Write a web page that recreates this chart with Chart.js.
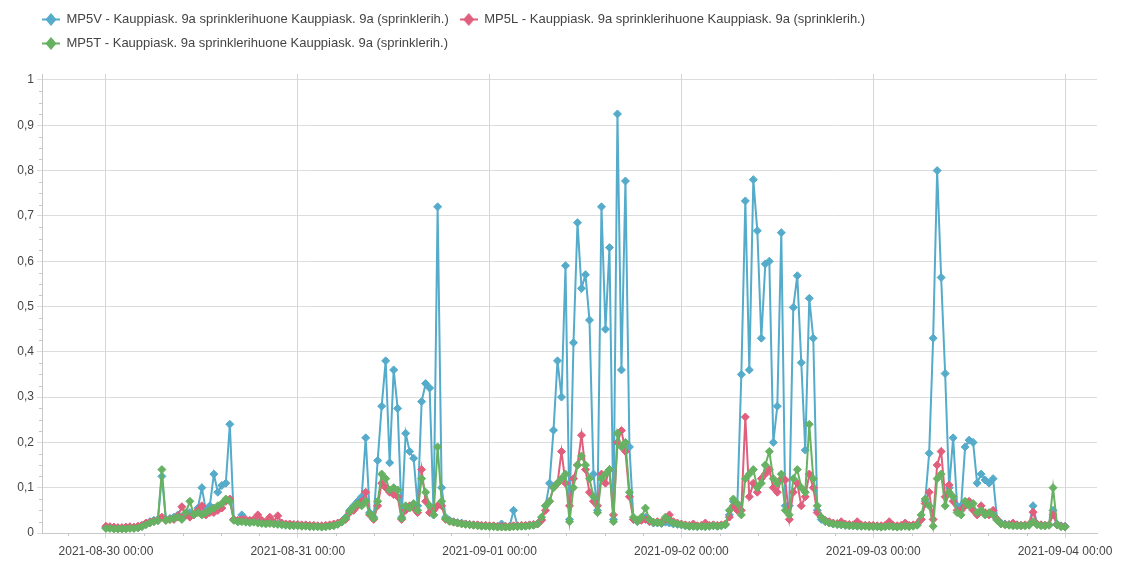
<!DOCTYPE html>
<html>
<head>
<meta charset="utf-8">
<script src="https://cdn.jsdelivr.net/npm/chart.js@4/dist/chart.umd.min.js"></script>
<style>
    html, body { margin: 0; padding: 0; background: #ffffff; }
    #wrap { width: 1134px; height: 563px; position: relative; }
</style>
</head>
<body>
<div id="wrap"><canvas id="chart"></canvas></div>
<script>
// ================= DATA =================

// readings every 30 min, starting 2021-08-30 00:00 (hour 0)
const startHour = 0;
const stepHours = 0.5;

const dayTicks = [0, 24, 48, 72, 96, 120];
const dayLabels = ['2021-08-30 00:00', '2021-08-31 00:00', '2021-09-01 00:00',
                   '2021-09-02 00:00', '2021-09-03 00:00', '2021-09-04 00:00'];
const yTicks = [0, 0.1, 0.2, 0.3, 0.4, 0.5, 0.6, 0.7, 0.8, 0.9, 1];

const seriesNames = [
    'MP5V - Kauppiask. 9a sprinklerihuone Kauppiask. 9a (sprinklerih.)',
    'MP5L - Kauppiask. 9a sprinklerihuone Kauppiask. 9a (sprinklerih.)',
    'MP5T - Kauppiask. 9a sprinklerihuone Kauppiask. 9a (sprinklerih.)'
];

const mp5v = [
    .012,.012,.011,.011,.010,.011,.012,.012,.013,.016,.020,.025,
    .028,.030,.125,.030,.032,.035,.040,.035,.040,.045,.040,.055,
    .100,.050,.060,.130,.090,.105,.110,.240,.030,.025,.040,.025,
    .024,.025,.024,.022,.022,.023,.021,.020,.019,.018,.018,.017,
    .017,.016,.016,.015,.015,.015,.014,.015,.016,.017,.020,.025,
    .035,.050,.060,.070,.080,.210,.045,.035,.160,.280,.380,.155,
    .360,.275,.035,.220,.180,.165,.060,.290,.330,.320,.040,.720,
    .100,.035,.028,.025,.023,.022,.020,.019,.018,.017,.016,.016,
    .015,.015,.014,.020,.014,.014,.050,.015,.015,.016,.017,.018,
    .020,.030,.060,.110,.227,.380,.300,.590,.030,.420,.685,.540,
    .570,.470,.130,.050,.720,.450,.630,.030,.925,.360,.777,.190,
    .030,.025,.030,.035,.025,.022,.022,.021,.024,.022,.020,.019,
    .018,.016,.015,.015,.014,.015,.014,.015,.016,.015,.016,.018,
    .040,.070,.060,.350,.733,.360,.780,.667,.430,.594,.600,.200,
    .280,.663,.060,.060,.498,.568,.376,.183,.518,.430,.050,.030,
    .025,.022,.020,.019,.018,.017,.017,.016,.016,.015,.016,.015,
    .015,.015,.014,.015,.016,.015,.014,.015,.016,.015,.016,.018,
    .030,.070,.176,.430,.800,.564,.352,.100,.210,.060,.060,.190,
    .205,.200,.110,.130,.117,.110,.120,.030,.022,.020,.019,.018,
    .018,.017,.017,.018,.060,.020,.018,.017,.018,.050,.020,.016,
    .015
];

const mp5l = [
    .015,.014,.013,.012,.012,.013,.014,.013,.015,.017,.022,.024,
    .026,.028,.035,.028,.030,.030,.038,.058,.040,.035,.040,.050,
    .060,.040,.045,.045,.050,.055,.070,.075,.030,.028,.030,.030,
    .028,.030,.040,.028,.025,.035,.024,.038,.022,.020,.020,.019,
    .019,.018,.018,.017,.017,.016,.016,.017,.018,.020,.022,.026,
    .030,.045,.050,.060,.070,.090,.040,.030,.060,.110,.100,.090,
    .085,.080,.030,.050,.060,.055,.045,.140,.070,.045,.050,.060,
    .060,.030,.026,.024,.022,.021,.020,.019,.018,.018,.017,.017,
    .016,.016,.015,.015,.015,.015,.016,.016,.017,.017,.018,.019,
    .020,.028,.050,.070,.100,.110,.180,.110,.060,.120,.150,.216,
    .140,.090,.070,.060,.130,.110,.140,.040,.200,.226,.180,.080,
    .030,.028,.028,.030,.026,.024,.025,.024,.030,.040,.025,.022,
    .020,.018,.017,.020,.016,.017,.022,.017,.018,.017,.018,.020,
    .035,.060,.050,.050,.256,.080,.110,.090,.120,.130,.140,.100,
    .090,.120,.117,.030,.090,.110,.060,.080,.130,.100,.045,.035,
    .028,.025,.022,.021,.025,.020,.019,.018,.025,.018,.017,.017,
    .017,.016,.016,.017,.025,.017,.016,.017,.022,.017,.018,.020,
    .030,.065,.090,.030,.150,.180,.080,.106,.070,.050,.050,.060,
    .070,.050,.040,.060,.045,.040,.050,.030,.020,.019,.018,.022,
    .018,.017,.018,.019,.046,.020,.018,.017,.018,.040,.018,.015,
    .014
];

const mp5t = [
    .010,.010,.009,.009,.009,.009,.010,.010,.011,.014,.018,.022,
    .025,.027,.140,.028,.030,.032,.035,.030,.045,.070,.040,.045,
    .040,.045,.050,.055,.060,.065,.075,.070,.028,.025,.025,.024,
    .023,.024,.022,.021,.020,.021,.020,.019,.018,.017,.016,.016,
    .016,.015,.015,.014,.014,.014,.013,.014,.015,.016,.019,.024,
    .033,.048,.058,.065,.060,.070,.042,.032,.070,.130,.120,.095,
    .100,.095,.032,.060,.055,.065,.050,.120,.090,.060,.040,.190,
    .070,.032,.026,.024,.022,.020,.019,.018,.017,.016,.015,.015,
    .014,.014,.013,.013,.013,.013,.014,.014,.015,.015,.016,.017,
    .020,.035,.060,.070,.100,.110,.120,.130,.025,.100,.150,.170,
    .150,.120,.080,.045,.120,.130,.140,.025,.220,.190,.200,.090,
    .035,.026,.035,.055,.030,.024,.023,.022,.035,.028,.022,.020,
    .018,.016,.015,.015,.014,.015,.014,.015,.016,.015,.016,.018,
    .050,.075,.065,.040,.120,.130,.140,.100,.110,.150,.180,.120,
    .110,.130,.050,.040,.120,.140,.100,.090,.240,.120,.060,.035,
    .026,.022,.020,.019,.018,.017,.016,.016,.015,.015,.015,.014,
    .014,.014,.013,.014,.015,.014,.013,.014,.015,.014,.015,.017,
    .040,.075,.060,.015,.120,.130,.060,.090,.080,.045,.040,.070,
    .060,.065,.045,.050,.040,.045,.040,.028,.020,.018,.017,.016,
    .016,.016,.016,.017,.025,.018,.016,.016,.017,.100,.018,.014,
    .013
];

const seriesColors = ['#55abca', '#e05f7d', '#66b262'];

// ================= HELPERS =================

function toPoints(values) {
    return values.map((v, i) => ({ x: startHour + i * stepHours, y: v }));
}

// little "line + diamond" swatch for the legend
function legendSwatch(color) {
    const c = document.createElement('canvas');
    c.width = 18;
    c.height = 13;
    const ctx = c.getContext('2d');
    ctx.strokeStyle = color;
    ctx.lineWidth = 2;
    ctx.beginPath();
    ctx.moveTo(0, 6.5);
    ctx.lineTo(18, 6.5);
    ctx.stroke();
    ctx.fillStyle = color;
    ctx.beginPath();
    ctx.moveTo(9, 0);
    ctx.lineTo(14.5, 6.5);
    ctx.lineTo(9, 13);
    ctx.lineTo(3.5, 6.5);
    ctx.closePath();
    ctx.fill();
    return c;
}

// minor tick marks on both axes + legend moved to the plot's left edge
const axisExtras = {
    id: 'axisExtras',
    afterLayout(chart) {
        chart.legend.left = 31;
        chart.legend.top = 2;
    },
    afterDraw(chart) {
        const { ctx, scales: { x, y } } = chart;
        ctx.save();
        ctx.strokeStyle = '#c8c8c8';
        ctx.lineWidth = 1;
        ctx.beginPath();
        for (let k = -1; k <= 26; k++) {
            if (k % 5 === 0) continue;
            const h = k * 4.8;
            if (h < x.min || h > x.max) continue;
            const px = Math.round(x.getPixelForValue(h)) + 0.5;
            ctx.moveTo(px, y.bottom);
            ctx.lineTo(px, y.bottom + 3);
        }
        for (let k = 1; k < 40; k++) {
            if (k % 4 === 0) continue;
            const py = Math.round(y.getPixelForValue(k * 0.025)) + 0.5;
            ctx.moveTo(x.left - 3, py);
            ctx.lineTo(x.left, py);
        }
        ctx.stroke();
        ctx.restore();
    }
};

// ================= CHART =================

Chart.defaults.font.family = '"Liberation Sans", Arial, sans-serif';
Chart.defaults.font.size = 12;
Chart.defaults.color = '#444';

const allSeries = [mp5v, mp5l, mp5t];

new Chart(document.getElementById('chart'), {
    type: 'line',
    data: {
        datasets: allSeries.map((vals, i) => ({
            label: seriesNames[i],
            data: toPoints(vals),
            borderColor: seriesColors[i],
            backgroundColor: seriesColors[i],
            pointBackgroundColor: seriesColors[i],
            pointBorderColor: seriesColors[i],
            borderWidth: 2,
            pointStyle: 'rectRot',
            pointRadius: 4,
            pointBorderWidth: 1,
            tension: 0,
            order: 3 - i
        }))
    },
    options: {
        responsive: true,
        maintainAspectRatio: false,
        animation: false,
        layout: { padding: { right: 37, bottom: 0, top: 16 } },
        plugins: {
            tooltip: { enabled: false },
            legend: {
                position: 'top',
                align: 'start',
                labels: {
                    usePointStyle: true,
                    pointStyleWidth: 18,
                    padding: 11,
                    color: '#444',
                    font: { size: 13 },
                    sort: (a, b) => a.datasetIndex - b.datasetIndex,
                    generateLabels(chart) {
                        const items = Chart.defaults.plugins.legend.labels.generateLabels(chart);
                        items.forEach(it => {
                            it.pointStyle = legendSwatch(seriesColors[it.datasetIndex]);
                        });
                        return items;
                    }
                }
            }
        },
        scales: {
            x: {
                type: 'linear',
                min: -8,
                max: 124,
                afterBuildTicks: axis => { axis.ticks = dayTicks.map(v => ({ value: v })); },
                afterFit: scale => { scale.height = 30; },
                ticks: {
                    autoSkip: false,
                    maxRotation: 0,
                    padding: 6,
                    color: '#444',
                    callback: v => dayLabels[dayTicks.indexOf(v)] || ''
                },
                grid: { color: '#d6d6d6', tickLength: 5 },
                border: { color: '#c8c8c8' }
            },
            y: {
                min: 0,
                max: 1.0132,
                afterBuildTicks: axis => { axis.ticks = yTicks.map(v => ({ value: v })); },
                afterFit: scale => { scale.width = 42; },
                ticks: {
                    padding: 3,
                    color: '#444',
                    callback: v => String(Math.round(v * 10) / 10).replace('.', ',')
                },
                grid: { color: '#dcdcdc', tickLength: 5 },
                border: { color: '#c8c8c8' }
            }
        }
    },
    plugins: [axisExtras]
});
</script>
</body>
</html>
